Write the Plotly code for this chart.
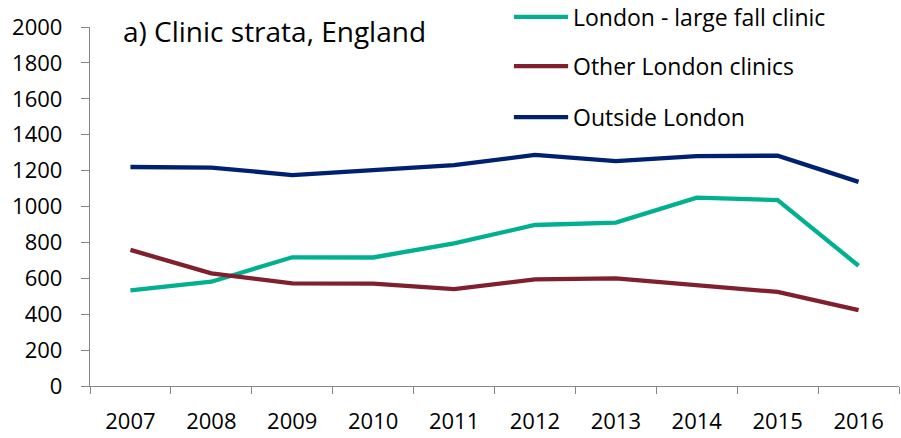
import plotly.graph_objects as go

years = ["2007", "2008", "2009", "2010", "2011", "2012", "2013", "2014", "2015", "2016"]
london_large = [533, 581, 717, 716, 795, 897, 910, 1049, 1036, 670]
other_london = [758, 628, 572, 570, 540, 594, 600, 561, 524, 423]
outside_london = [1220, 1217, 1175, 1205, 1230, 1287, 1253, 1281, 1283, 1137]

series_names = ["London - large fall clinic", "Other London clinics", "Outside London"]
series_values = [london_large, other_london, outside_london]
series_colors = ["#00B08F", "#801F2E", "#002070"]

y_ticks = [0, 200, 400, 600, 800, 1000, 1200, 1400, 1600, 1800, 2000]
title_text = "a) Clinic strata, England"

FONT = "Open Sans"

fig = go.Figure()
for name, vals, col in zip(series_names, series_values, series_colors):
    fig.add_trace(go.Scatter(x=years, y=vals, mode="lines", name=name,
                             line=dict(color=col, width=4.3), showlegend=False))

# custom legend (paper coords: x 0..1 -> px 90..899, y 0..1 -> px 386..27)
legend_y = [1.028, 0.891, 0.749]
shapes = []
annotations = []
for name, col, ly in zip(series_names, series_colors, legend_y):
    shapes.append(dict(type="line", xref="paper", yref="paper",
                       x0=0.524, x1=0.591, y0=ly, y1=ly,
                       line=dict(color=col, width=4.3)))
    annotations.append(dict(text=name, xref="paper", yref="paper", x=0.595, y=ly,
                            xanchor="left", yanchor="middle", showarrow=False,
                            font=dict(family=FONT, size=23, color="#000000")))
annotations.append(dict(text=title_text, xref="paper", yref="paper", x=0.038, y=0.99,
                        xanchor="left", yanchor="middle", showarrow=False,
                        font=dict(family=FONT, size=28, color="#000000")))

fig.update_layout(
    width=901, height=438,
    margin=dict(l=90, r=2, t=27, b=52),
    paper_bgcolor="white", plot_bgcolor="white",
    shapes=shapes, annotations=annotations,
    font=dict(family=FONT, size=22, color="#000000"),
    xaxis=dict(type="category", tickson="boundaries", ticks="outside", ticklen=7,
               tickcolor="#868686", tickwidth=1.3, showline=True, linecolor="#868686",
               linewidth=1.3, showgrid=False, range=[-0.5, 9.5], ticklabelstandoff=15,
               tickfont=dict(family=FONT, size=22)),
    yaxis=dict(range=[0, 2000], tickvals=y_ticks, ticks="outside", ticklen=8,
               tickcolor="#868686", tickwidth=1.3, showline=True, linecolor="#868686",
               linewidth=1.3, showgrid=False, zeroline=False, ticklabelstandoff=14,
               tickfont=dict(family=FONT, size=22)),
)

fig.write_html("out.html", config={"displayModeBar": False},
               post_script="document.body.style.margin='0';document.body.style.overflow='hidden';")
